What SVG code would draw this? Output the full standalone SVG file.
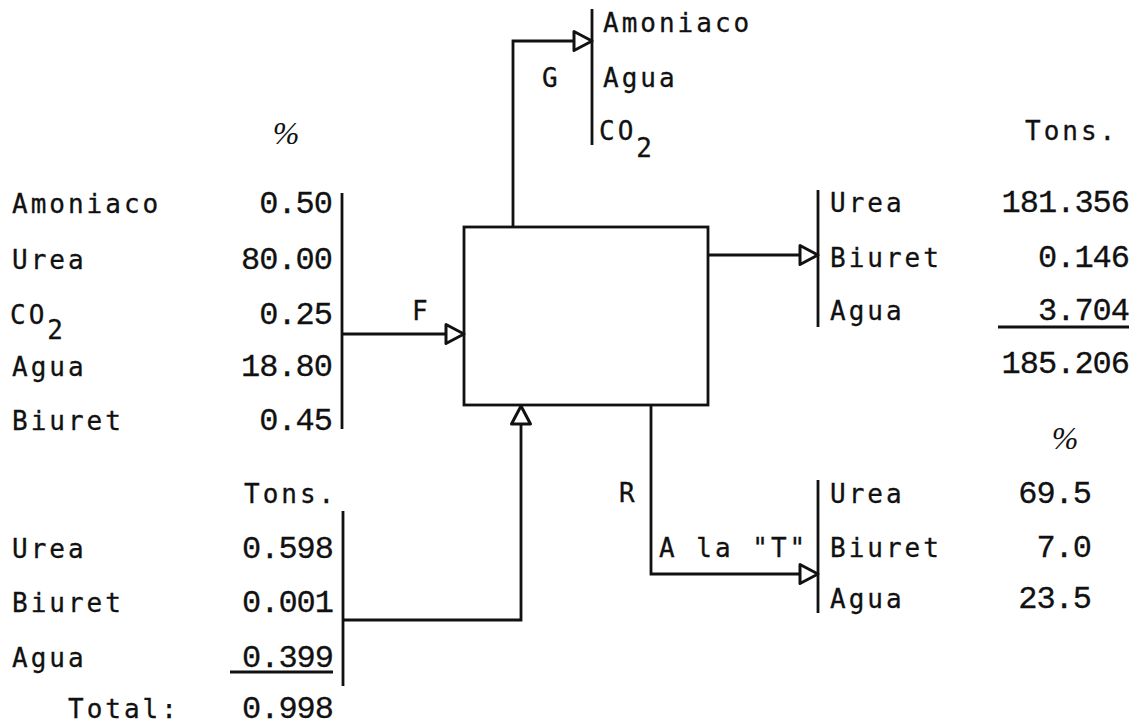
<svg xmlns="http://www.w3.org/2000/svg" width="1139" height="726" viewBox="0 0 1139 726">
<style>
.lb{font-family:"DejaVu Sans Mono","Liberation Mono",monospace;font-size:26px;letter-spacing:3px;fill:#111;stroke:#111;stroke-width:0.3}
.nm{font-family:"Liberation Mono","DejaVu Sans Mono",monospace;font-size:32px;letter-spacing:-1px;fill:#111;stroke:#111;stroke-width:0.3;text-anchor:end}
.pc{font-family:"Liberation Serif",serif;font-style:italic;font-size:32px;fill:#111;text-anchor:middle}
.ln{stroke:#111;stroke-width:2.8;fill:none}
</style>
<defs>
<marker id="ah" markerUnits="userSpaceOnUse" markerWidth="26" markerHeight="26" refX="21" refY="12" orient="auto">
<path d="M3,2.5 L21,12 L3,21.5 Z" fill="#fff" stroke="#111" stroke-width="3" stroke-linejoin="round"/>
</marker>
</defs>
<rect width="1139" height="726" fill="#fff"/>

<g id="process">
<rect x="464" y="227" width="244" height="178" class="ln"/>
</g>

<g id="feed">
<text class="pc" x="286" y="144">%</text>
<text class="lb" x="12" y="213">Amoniaco</text>
<text class="lb" x="12" y="269">Urea</text>
<text class="lb" x="10" y="324">CO<tspan dy="15">2</tspan></text>
<text class="lb" x="12" y="376">Agua</text>
<text class="lb" x="12" y="430">Biuret</text>
<text class="nm" x="332" y="213">0.50</text>
<text class="nm" x="332" y="269">80.00</text>
<text class="nm" x="332" y="324">0.25</text>
<text class="nm" x="332" y="376">18.80</text>
<text class="nm" x="332" y="430">0.45</text>
<line x1="342" y1="193" x2="342" y2="429" class="ln"/>
</g>

<g id="recycle-in">
<text class="lb" x="244" y="503">Tons.</text>
<text class="lb" x="12" y="558">Urea</text>
<text class="lb" x="12" y="612">Biuret</text>
<text class="lb" x="12" y="667">Agua</text>
<text class="lb" x="68" y="718">Total:</text>
<text class="nm" x="333" y="558">0.598</text>
<text class="nm" x="333" y="612">0.001</text>
<text class="nm" x="333" y="667">0.399</text>
<text class="nm" x="333" y="718">0.998</text>
<line x1="230" y1="672" x2="333" y2="672" class="ln"/>
<line x1="343" y1="511" x2="343" y2="686" class="ln"/>
</g>

<g id="gas-out">
<text class="lb" x="603" y="32">Amoniaco</text>
<text class="lb" x="603" y="87">Agua</text>
<text class="lb" x="599" y="140">CO<tspan dy="17">2</tspan></text>
<line x1="592" y1="9" x2="592" y2="145" class="ln"/>
</g>

<g id="product-out">
<text class="lb" x="1025" y="140">Tons.</text>
<text class="lb" x="830" y="212">Urea</text>
<text class="lb" x="830" y="267">Biuret</text>
<text class="lb" x="830" y="320">Agua</text>
<text class="nm" x="1129" y="212">181.356</text>
<text class="nm" x="1129" y="267">0.146</text>
<text class="nm" x="1129" y="320">3.704</text>
<text class="nm" x="1129" y="373">185.206</text>
<line x1="998" y1="327" x2="1129" y2="327" class="ln"/>
<line x1="818" y1="190" x2="818" y2="327" class="ln"/>
</g>

<g id="recycle-out">
<text class="pc" x="1065" y="449">%</text>
<text class="lb" x="830" y="503">Urea</text>
<text class="lb" x="830" y="557">Biuret</text>
<text class="lb" x="830" y="608">Agua</text>
<text class="nm" x="1091" y="503">69.5</text>
<text class="nm" x="1091" y="557">7.0</text>
<text class="nm" x="1091" y="608">23.5</text>
<line x1="818" y1="480" x2="818" y2="613" class="ln"/>
</g>

<g id="connectors">
<polyline points="342,334 464,334" class="ln" marker-end="url(#ah)"/>
<polyline points="513,227 513,41 592,41" class="ln" marker-end="url(#ah)"/>
<polyline points="708,255 818,255" class="ln" marker-end="url(#ah)"/>
<polyline points="343,620 521,620 521,406" class="ln" marker-end="url(#ah)"/>
<polyline points="651,405 651,574 818,574" class="ln" marker-end="url(#ah)"/>
<text class="lb" x="412" y="320">F</text>
<text class="lb" x="542" y="87">G</text>
<text class="lb" x="619" y="502">R</text>
<text class="lb" x="659" y="557">A la "T"</text>
</g>
</svg>
